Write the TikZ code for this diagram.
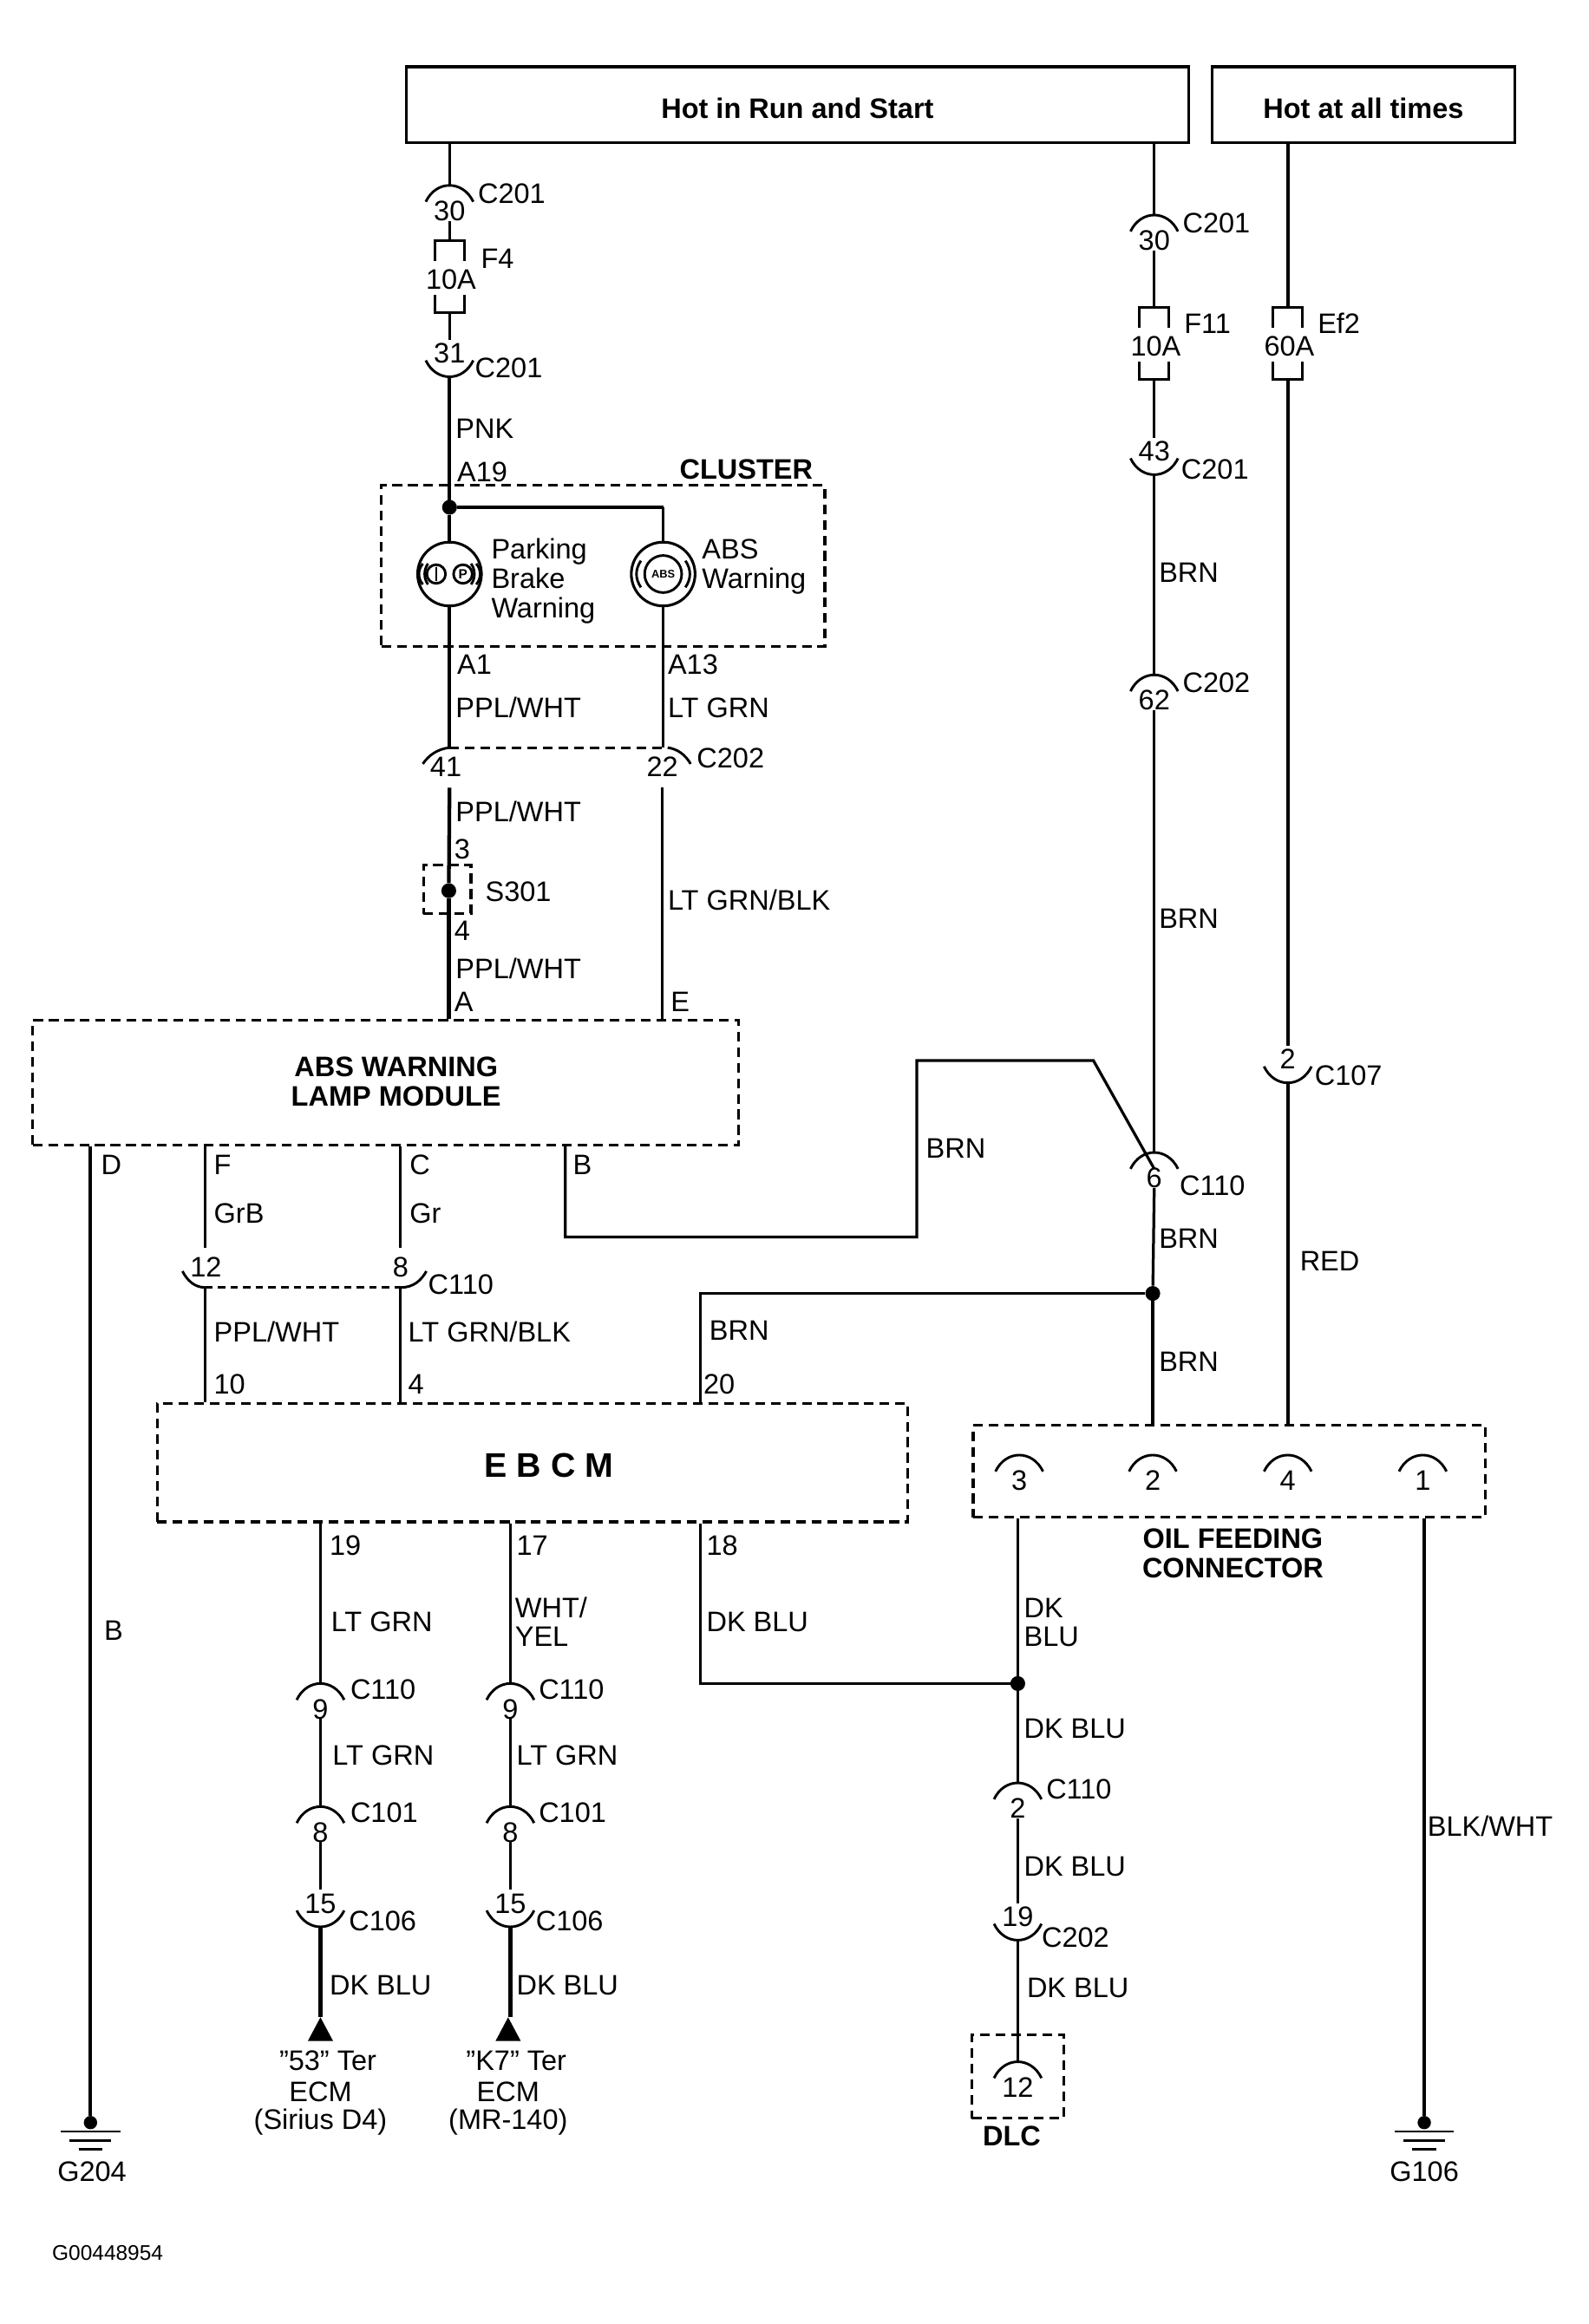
\documentclass[tikz,border=0pt]{standalone}
\usepackage{fontspec}
\setmainfont{Liberation Sans}
\newcount\labn
\tikzset{
  x=1pt,y=-1pt,
  wire/.style={line width=1.9pt,line cap=butt,line join=miter},
  thick wire/.style={line width=2.5pt,line join=miter},
  conn/.style={line width=1.7pt},
  box/.style={draw,line width=1.8pt,inner sep=0pt,fill=none},
  dbox/.style={draw,line width=1.9pt,inner sep=0pt,dash pattern=on 6.5pt off 4pt},
  txt/.style={inner sep=0pt,anchor=base west,font=\fontsize{19}{19}\selectfont},
  ctxt/.style={inner sep=0pt,anchor=base,font=\fontsize{19}{19}\selectfont},
  btxt/.style={inner sep=0pt,anchor=base,font=\fontsize{19}{19}\selectfont\bfseries},
  junction/.style={circle,fill=black,inner sep=0pt,minimum size=10pt},
  lamp/.style={circle,draw,line width=1.8pt,inner sep=0pt,minimum size=43pt},
}
% left-aligned label, centred label, bold centred label (x, y of the text's middle)
\newcommand\lab[3]{\global\advance\labn by 1 \node[txt] (t\the\labn) at (#1,{#2+6.8}) {#3};}
\newcommand\clab[3]{\global\advance\labn by 1 \node[ctxt] (t\the\labn) at (#1,{#2+6.8}) {#3};}
\newcommand\blab[3]{\global\advance\labn by 1 \node[btxt] (t\the\labn) at (#1,{#2+6.8}) {#3};}
% socket with its arc above the number: name, x, top y, number
\newcommand\sockT[4]{
  \coordinate (#1) at (#2,#3);
  \coordinate (#1b) at (#2,{#3+24});
  \draw[conn] ({#2-16},{#3+11}) .. controls ({#2-9},{#3-3.7}) and ({#2+9},{#3-3.7}) .. ({#2+16},{#3+11});
  \node[ctxt] (#1n) at (#2,{#3+17+6.8}) {#4};
}
% socket with its arc below the number: name, x, bottom y, number
\newcommand\sockB[4]{
  \coordinate (#1) at (#2,#3);
  \coordinate (#1b) at (#2,{#3-25});
  \draw[conn] ({#2-16},{#3-11}) .. controls ({#2-9},{#3+3.7}) and ({#2+9},{#3+3.7}) .. ({#2+16},{#3-11});
  \node[ctxt] (#1n) at (#2,{#3-16+6.8}) {#4};
}
% fuse: name, x, top y, rating
\newcommand\fuse[4]{
  \coordinate (#1a) at (#2,#3);
  \coordinate (#1z) at (#2,{#3+49});
  \draw[conn] ({#2-10},{#3+14}) -- ({#2-10},#3) -- ({#2+10},#3) -- ({#2+10},{#3+14});
  \draw[conn] ({#2-10},{#3+37}) -- ({#2-10},{#3+49}) -- ({#2+10},{#3+49}) -- ({#2+10},{#3+37});
  \node[ctxt] (#1n) at ({#2+1},{#3+26+6.8}) {#4};
}
% ground: name, x, y
\newcommand\gnd[3]{
  \node[junction,minimum size=9pt] (#1) at (#2,#3) {};
  \draw[conn] ({#2-20},{#3+6}) -- ({#2+20},{#3+6});
  \draw[conn] ({#2-14},{#3+12}) -- ({#2+14},{#3+12});
  \draw[conn] ({#2-8},{#3+18}) -- ({#2+8},{#3+18});
}
\begin{document}
\begin{tikzpicture}
\useasboundingbox (0,0) rectangle (1071,1566.8);
\fill[white] (0,0) rectangle (1071,1566.8);

% ---- boxes
\node[box,minimum width=527pt,minimum height=51pt] (hotrun) at (537.5,70.5) {};
\node[box,minimum width=204pt,minimum height=51pt] (hotall) at (919,70.5) {};
\blab{537.5}{73}{Hot in Run and Start}
\blab{919}{73}{Hot at all times}
\node[dbox,minimum width=299pt,minimum height=109pt] (cluster) at (406.5,381.5) {};
\blab{503}{316}{CLUSTER}
\node[dbox,minimum width=476pt,minimum height=84pt] (abs) at (260,730) {};
\blab{267}{719}{ABS WARNING}
\blab{267}{739}{LAMP MODULE}
\node[dbox,minimum width=506pt,minimum height=80pt] (ebcm) at (359,986) {};
\node[btxt,font=\fontsize{23}{23}\selectfont\bfseries] (ebcmt) at (370,996) {E B C M};
\node[dbox,minimum width=345pt,minimum height=62pt] (oil) at (828.5,992) {};
\blab{831}{1037}{OIL FEEDING}
\blab{831}{1057}{CONNECTOR}
\node[dbox,minimum width=32pt,minimum height=33pt] (s301box) at (301.5,599.5) {};
\node[dbox,minimum width=62pt,minimum height=56pt] (dlcbox) at (686,1400) {};
\blab{682}{1440}{DLC}

% ---- left feed
\sockT{a30}{303}{125}{30}
\lab{322}{130}{C201}
\fuse{fa}{303}{162}{10A}
\lab{324}{174}{F4}
\sockB{a31}{303}{254}{31}
\lab{320}{248}{C201}
\draw[wire] (hotrun.south -| a30) -- (a30);
\draw[wire] (a30b) -- (faa);
\draw[wire] (faz) -- (a31b);
\coordinate (asplit) at (303,342);
\draw[thick wire] (a31) -- (asplit);
\lab{307}{289}{PNK}
\lab{308}{318}{A19}

% ---- cluster
\node[junction] (j1) at (asplit) {};
\node[lamp] (lampP) at (303,387) {};
\node[lamp] (lampA) at (447,387) {};
\coordinate (acorner) at (447,342);
\draw[thick wire] (j1) -- (acorner);
\draw[wire] (acorner) -- (lampA);
\draw[thick wire] (j1) -- (lampP);
\draw[conn] (294,387) circle[radius=6.3];
\draw[conn] (312,387) circle[radius=6.3];
\draw[line width=1.2pt] (294,382.5) -- (294,391.5);
\node[inner sep=0pt,font=\fontsize{9}{9}\selectfont\bfseries] (pch) at (312,387) {P};
\draw[conn] (288.5,380) .. controls (285.5,384) and (285.5,390) .. (288.5,394);
\draw[conn] (285,380) .. controls (281.5,384) and (281.5,390) .. (285,394);
\draw[conn] (317.5,380) .. controls (320.5,384) and (320.5,390) .. (317.5,394);
\draw[conn] (321,380) .. controls (324.5,384) and (324.5,390) .. (321,394);
\draw[conn] (447,387) circle[radius=12.5];
\node[inner sep=0pt,font=\fontsize{7.5}{7.5}\selectfont\bfseries] (abst) at (447,387) {ABS};
\draw[conn] (432,378) .. controls (428,384) and (428,390) .. (432,396);
\draw[conn] (462,378) .. controls (466,384) and (466,390) .. (462,396);
\lab{331}{370}{Parking}
\lab{331}{390}{Brake}
\lab{331}{410}{Warning}
\lab{473}{370}{ABS}
\lab{473}{390}{Warning}

% ---- below cluster
\coordinate (c41) at (303,504);
\coordinate (c22) at (447,504);
\draw[thick wire] (lampP) -- (c41);
\draw[wire] (lampA) -- (c22);
\draw[conn,dash pattern=on 6.5pt off 4pt] (c41) -- (c22);
\draw[conn] (285,515) .. controls (289,509) and (295,505) .. (c41);
\draw[conn] (450,504) .. controls (457,505) and (462,509) .. (465.5,515);
\clab{300.5}{517}{41}
\clab{446.5}{517}{22}
\lab{469.5}{511}{C202}
\lab{308}{448}{A1}
\lab{450}{448}{A13}
\lab{307}{477}{PPL/WHT}
\lab{450}{477}{LT GRN}
\coordinate (w41) at (303,531);
\coordinate (w22) at (446.5,531);
\node[junction,minimum size=10pt] (s301) at (302.5,600.5) {};
\draw[thick wire] (w41) -- (s301);
\draw[thick wire] (s301) -- (s301 |- abs.north);
\draw[wire] (w22) -- (w22 |- abs.north);
\lab{307}{547}{PPL/WHT}
\lab{306}{572}{3}
\lab{306}{627}{4}
\lab{327}{601}{S301}
\lab{307}{653}{PPL/WHT}
\lab{306}{675}{A}
\lab{452}{675}{E}
\lab{450}{607}{LT GRN/BLK}

% ---- below ABS module
\gnd{g204}{61}{1431}
\draw[thick wire] (g204 |- abs.south) -- (g204);
\lab{68}{785}{D}
\lab{70}{1099}{B}
\node[ctxt] (g204t) at (62,1470.8) {G204};
\coordinate (w12) at (138.4,841);
\coordinate (w8) at (270,841);
\draw[wire] (w12 |- abs.south) -- (w12);
\draw[wire] (w8 |- abs.south) -- (w8);
\lab{144}{785}{F}
\lab{144}{818}{GrB}
\lab{276}{785}{C}
\lab{276}{818}{Gr}
\lab{386}{785}{B}
\clab{138.8}{854}{12}
\clab{270}{854}{8}
\coordinate (c12) at (138.4,868);
\coordinate (c8) at (270,868);
\draw[conn] (123,857) .. controls (126,863) and (131,868) .. (c12);
\draw[conn] (c8) .. controls (279,868) and (284,863) .. (287.4,857);
\draw[conn,dash pattern=on 5pt off 3.5pt] (c12) -- (c8);
\lab{288.4}{866}{C110}
\draw[wire] (c12) -- (c12 |- ebcm.north);
\draw[wire] (c8) -- (c8 |- ebcm.north);
\lab{144}{898}{PPL/WHT}
\lab{275}{898}{LT GRN/BLK}
\lab{144}{933}{10}
\lab{275}{933}{4}
\lab{474}{933}{20}
\lab{478}{897}{BRN}

% ---- right feed
\sockT{b30}{778}{145}{30}
\lab{797}{150}{C201}
\fuse{fb}{778}{207}{10A}
\lab{798}{218}{F11}
\sockB{b43}{778}{320}{43}
\lab{796}{316}{C201}
\lab{781}{386}{BRN}
\sockT{b62}{778}{455}{62}
\lab{797}{460}{C202}
\lab{781}{619}{BRN}
\sockT{b6}{778}{777}{6}
\lab{795}{799}{C110}
\lab{781}{835}{BRN}
\lab{781}{918}{BRN}
\draw[wire] (hotrun.south -| b30) -- (b30);
\draw[wire] (b30b) -- (fba);
\draw[wire] (fbz) -- (b43b);
\draw[wire] (b43) -- (b62);
\draw[wire] (b62b) -- (b6);
\node[junction] (j2) at (777,872) {};
\draw[wire] (b6b) -- (j2);
\draw[wire] (j2) -- (j2 |- oil.north);
\coordinate (j2c) at (472,872);
\draw[wire] (j2) -- (j2c) -- (j2c |- ebcm.north);
% zig-zag from module pin B
\coordinate (z1) at (381,834);
\coordinate (z2) at (618,834);
\coordinate (z3) at (618,715);
\coordinate (z4) at (737,715);
\coordinate (z5) at (778,788);
\draw[wire] (z1 |- abs.south) -- (z1) -- (z2) -- (z3) -- (z4) -- (z5);
\lab{624}{774}{BRN}

% ---- hot at all times
\fuse{fc}{868}{207}{60A}
\lab{888}{218}{Ef2}
\sockB{c2}{868}{730}{2}
\lab{886}{725}{C107}
\lab{876}{850}{RED}
\draw[thick wire] (hotall.south -| fca) -- (fca);
\draw[thick wire] (fcz) -- (c2b);
\draw[thick wire] (c2) -- (c2 |- oil.north);

% ---- oil feeding connector
\sockT{o3}{687}{981}{3}
\sockT{o2}{777}{981}{2}
\sockT{o4}{868}{981}{4}
\sockT{o1}{959}{981}{1}
\gnd{g106}{960}{1431}
\draw[thick wire] (g106 |- oil.south) -- (g106);
\lab{962}{1231}{BLK/WHT}
\node[ctxt] (g106t) at (960,1470.8) {G106};

% ---- DK BLU run to DLC
\node[junction,minimum size=10pt] (j3) at (686,1135) {};
\sockT{d2}{686}{1202}{2}
\lab{705}{1206}{C110}
\sockB{d19}{686}{1308}{19}
\lab{702}{1306}{C202}
\sockT{d12}{686}{1390}{12}
\draw[wire] (j3 |- oil.south) -- (j3);
\draw[wire] (j3) -- (d2);
\draw[wire] (d2b) -- (d19b);
\draw[wire] (d19) -- (d12);
\lab{690}{1084}{DK}
\lab{690}{1103}{BLU}
\lab{690}{1165}{DK BLU}
\lab{690}{1258}{DK BLU}
\lab{692}{1340}{DK BLU}
\coordinate (k18) at (472,1135);
\draw[wire] (k18 |- ebcm.south) -- (k18) -- (j3);
\lab{476}{1042}{18}
\lab{476}{1093}{DK BLU}

% ---- EBCM to ECM, column 1
\sockT{e9}{216}{1135}{9}
\lab{236}{1139}{C110}
\sockT{e8}{216}{1218}{8}
\lab{236}{1222}{C101}
\sockB{e15}{216}{1299}{15}
\lab{235}{1295}{C106}
\coordinate (etip) at (216,1360);
\draw[wire] (e9 |- ebcm.south) -- (e9);
\draw[wire] (e9b) -- (e8);
\draw[wire] (e8b) -- (e15b);
\draw[thick wire] (e15) -- (etip);
\fill (etip) -- (207.5,1376) -- (224.5,1376) -- cycle;
\lab{222}{1042}{19}
\lab{223}{1093}{LT GRN}
\lab{224}{1183}{LT GRN}
\lab{222}{1338}{DK BLU}
\clab{221}{1389}{"53" Ter}
\clab{216}{1410}{ECM}
\clab{216}{1429}{(Sirius D4)}

% ---- EBCM to ECM, column 2
\sockT{f9}{344}{1135}{9}
\lab{363}{1139}{C110}
\sockT{f8}{344}{1218}{8}
\lab{363}{1222}{C101}
\sockB{f15}{344}{1299}{15}
\lab{361}{1295}{C106}
\coordinate (ftip) at (342.5,1360);
\draw[wire] (f9 |- ebcm.south) -- (f9);
\draw[wire] (f9b) -- (f8);
\draw[wire] (f8b) -- (f15b);
\draw[thick wire] (f15) -- (f15 |- ftip);
\fill (ftip) -- (334,1376) -- (351,1376) -- cycle;
\lab{348}{1042}{17}
\lab{347}{1084}{WHT/}
\lab{347}{1103}{YEL}
\lab{348}{1183}{LT GRN}
\lab{348}{1338}{DK BLU}
\clab{348}{1389}{"K7" Ter}
\clab{342.5}{1410}{ECM}
\clab{342.5}{1429}{(MR-140)}

\node[txt,font=\fontsize{14.3}{14.3}\selectfont] (code) at (35,1524) {G00448954};
\end{tikzpicture}
\end{document}
